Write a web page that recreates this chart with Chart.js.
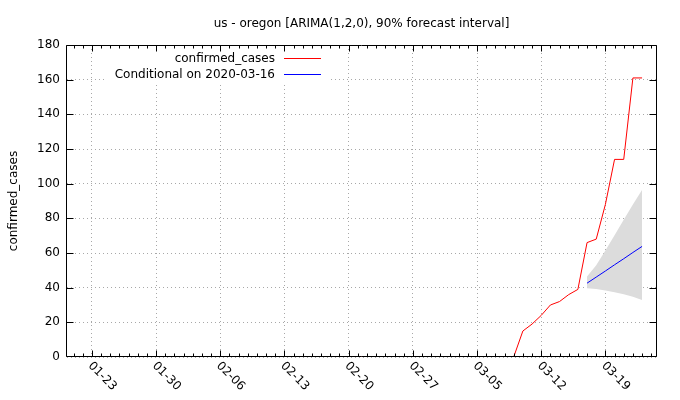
<!DOCTYPE html>
<html><head><meta charset="utf-8">
<script src="https://cdn.jsdelivr.net/npm/chart.js@4/dist/chart.umd.min.js"></script>
<style>html,body{margin:0;padding:0;background:#fff;}</style>
</head><body>
<canvas id="c" width="680" height="400"></canvas>
<script>
const titleText = 'us - oregon [ARIMA(1,2,0), 90% forecast interval]';
const yAxisTitle = 'confirmed_cases';
const seriesLabel = 'confirmed_cases';
const forecastLabel = 'Conditional on 2020-03-16';

const caseDates = ['01-22','01-23','01-24','01-25','01-26','01-27','01-28','01-29','01-30','01-31',
  '02-01','02-02','02-03','02-04','02-05','02-06','02-07','02-08','02-09','02-10',
  '02-11','02-12','02-13','02-14','02-15','02-16','02-17','02-18','02-19','02-20',
  '02-21','02-22','02-23','02-24','02-25','02-26','02-27','02-28','02-29',
  '03-01','03-02','03-03','03-04','03-05','03-06','03-07','03-08','03-09','03-10',
  '03-11','03-12','03-13','03-14','03-15','03-16','03-17','03-18','03-19','03-20',
  '03-21','03-22','03-23'];
const caseValues = [0,0,0,0,0,0,0,0,0,0,
  0,0,0,0,0,0,0,0,0,0,
  0,0,0,0,0,0,0,0,0,0,
  0,0,0,0,0,0,0,0,0,
  0,0,0,0,0,0,0,0,0,15,
  19,24,30,32,36,39,66,68,88,114,
  114,161,161];

const forecastDates = ['03-17','03-18','03-19','03-20','03-21','03-22','03-23'];
const forecastMean  = [42.6, 46.1, 49.6, 53.2, 56.7, 60.3, 63.8];
const forecastUpper = [46.4, 53.0, 61.5, 70.3, 79.2, 88.0, 96.4];
const forecastLower = [39.6, 39.2, 38.4, 37.4, 36.2, 34.7, 32.9];

const xTickLabels = ['01-23','01-30','02-06','02-13','02-20','02-27','03-05','03-12','03-19'];
const yTickValues = [0,20,40,60,80,100,120,140,160,180];

const FONT = 'DejaVu Sans';
function dayIndex(s){
  const [m,d] = s.split('-').map(Number);
  return (Date.UTC(2020,m-1,d) - Date.UTC(2020,0,23)) / 86400000;
}
const pts = (dates, vals) => dates.map((d,i)=>({x: dayIndex(d), y: vals[i]}));

const gnuplotDecor = {
  id: 'gnuplotDecor',
  beforeDatasetsDraw(chart){
    const ctx = chart.ctx;
    ctx.save();
    // opaque key box
    ctx.fillStyle = '#fff';
    ctx.fillRect(106, 50, 222, 32);
    ctx.font = '12px "' + FONT + '"';
    ctx.textAlign = 'right';
    ctx.textBaseline = 'middle';
    const entries = chart.data.datasets.filter(d => d.inLegend);
    entries.forEach((ds, i) => {
      const y = 58 + i*16;
      ctx.fillStyle = '#000';
      ctx.fillText(ds.label, 275, y + 0.5);
      ctx.strokeStyle = ds.borderColor;
      ctx.lineWidth = 1;
      ctx.beginPath();
      ctx.moveTo(284, y + 0.5);
      ctx.lineTo(321, y + 0.5);
      ctx.stroke();
    });
    ctx.restore();
  },
  afterDatasetsDraw(chart){
    const ctx = chart.ctx;
    const a = chart.chartArea;
    const xs = chart.scales.x, ys = chart.scales.y;
    ctx.save();
    ctx.strokeStyle = '#000';
    ctx.lineWidth = 1;
    const L = Math.round(a.left) - 0.5, R = Math.round(a.right) + 0.5;
    const T = Math.round(a.top) + 0.5, B = Math.round(a.bottom) - 0.5;
    ctx.beginPath();
    ctx.rect(L, T, R - L, B - T);
    // y ticks
    yTickValues.forEach(v => {
      let y = Math.round(ys.getPixelForValue(v)) + 0.5;
      if (y > B) y = B;
      ctx.moveTo(L, y); ctx.lineTo(L + 7, y);
      ctx.moveTo(R, y); ctx.lineTo(R - 7, y);
    });
    // x ticks (daily minor, weekly major)
    const majors = xTickLabels.map(dayIndex);
    for (let d = Math.ceil(xs.min); d <= Math.floor(xs.max); d++) {
      const x = Math.round(xs.getPixelForValue(d)) + 0.5;
      const len = majors.includes(d) ? 6 : 3;
      ctx.moveTo(x, B); ctx.lineTo(x, B - len);
      ctx.moveTo(x, T); ctx.lineTo(x, T + len);
    }
    ctx.stroke();
    ctx.restore();
  },
  afterDraw(chart){
    const ctx = chart.ctx;
    const xs = chart.scales.x;
    const a = chart.chartArea;
    ctx.save();
    ctx.font = '12px "' + FONT + '"';
    ctx.fillStyle = '#000';
    ctx.textAlign = 'left';
    ctx.textBaseline = 'middle';
    xTickLabels.forEach(lab => {
      const x = xs.getPixelForValue(dayIndex(lab));
      ctx.save();
      ctx.translate(x - 2, a.bottom + 7);
      ctx.rotate(Math.PI/4);
      ctx.fillText(lab, 0, 0);
      ctx.restore();
    });
    ctx.restore();
  }
};

const gridCol = '#a8a8a8';
new Chart(document.getElementById('c'), {
  type: 'line',
  data: {
    datasets: [
      { label: seriesLabel, inLegend: true, data: pts(caseDates, caseValues),
        borderColor: 'rgb(255,0,0)', borderWidth: 1, pointRadius: 0, fill: false, tension: 0 },
      { label: forecastLabel, inLegend: true, data: pts(forecastDates, forecastMean),
        borderColor: 'rgb(0,0,255)', borderWidth: 1, pointRadius: 0, fill: false, tension: 0 },
      { label: 'upper', data: pts(forecastDates, forecastUpper),
        borderWidth: 0, borderColor: 'rgba(0,0,0,0)', pointRadius: 0, fill: '+1', backgroundColor: '#dcdcdc', tension: 0 },
      { label: 'lower', data: pts(forecastDates, forecastLower),
        borderWidth: 0, borderColor: 'rgba(0,0,0,0)', pointRadius: 0, fill: false, tension: 0 }
    ]
  },
  options: {
    responsive: false, animation: false, devicePixelRatio: 1,
    layout: { padding: { left: 0, right: 24, top: 0, bottom: 0 } },
    plugins: {
      legend: { display: false },
      tooltip: { enabled: false },
      title: { display: true, text: titleText, fullSize: false, color: '#000',
        font: { family: FONT, size: 12, weight: 'normal' }, padding: { top: 17, bottom: 13.6 } }
    },
    scales: {
      x: {
        type: 'linear', min: -2.72, max: 61.52,
        afterBuildTicks: s => { s.ticks = xTickLabels.map(l => ({ value: dayIndex(l) })); },
        afterFit: s => { s.height = 43; },
        ticks: { display: false },
        grid: { color: gridCol, lineWidth: 1, drawTicks: false },
        border: { display: false, dash: [1, 3] }
      },
      y: {
        min: 0, max: 180,
        afterBuildTicks: s => { s.ticks = yTickValues.map(v => ({ value: v })); },
        afterFit: s => { s.width = 67; },
        ticks: { color: '#000', padding: 7, font: { family: FONT, size: 12 } },
        grid: { color: gridCol, lineWidth: 1, drawTicks: false },
        border: { display: false, dash: [1, 3] },
        title: { display: true, text: yAxisTitle, color: '#000',
          font: { family: FONT, size: 12 }, padding: { top: 7, bottom: 0 } }
      }
    }
  },
  plugins: [gnuplotDecor]
});
</script>
</body></html>
